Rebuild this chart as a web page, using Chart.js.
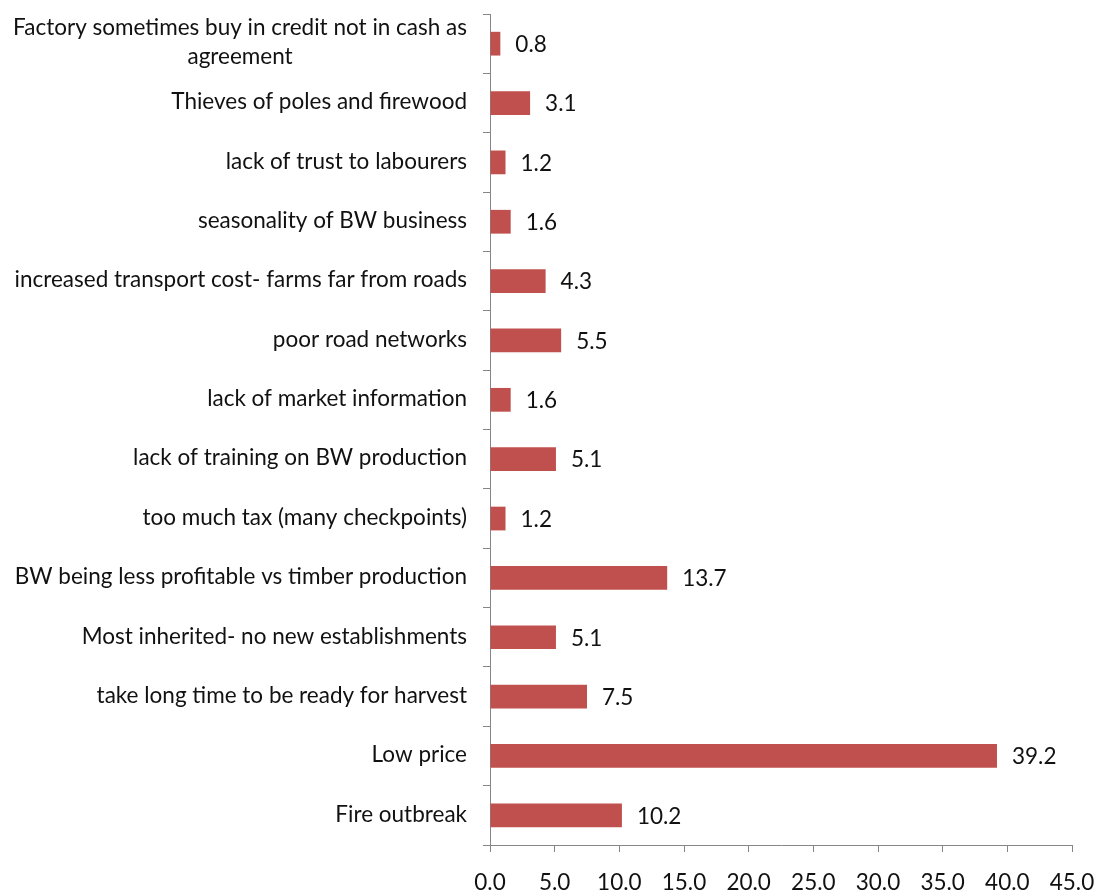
<!DOCTYPE html>
<html>
<head>
<meta charset="utf-8">
<script src="https://cdn.jsdelivr.net/npm/chart.js@4/dist/chart.umd.min.js"></script>
<style>
  html, body { margin: 0; padding: 0; background: #fff; }
  #wrap { width: 1103px; height: 894px; position: relative; }
</style>
</head>
<body>
<div id="wrap"><canvas id="chart"></canvas></div>
<script>
// categories, top to bottom as drawn
const categories = [
  ["Factory sometimes buy in credit not in cash as", "agreement"],
  "Thieves of poles and firewood",
  "lack of trust to labourers",
  "seasonality of BW business",
  "increased transport cost- farms far from roads",
  "poor road networks",
  "lack of market information",
  "lack of training on BW production",
  "too much tax (many checkpoints)",
  "BW being less profitable vs timber production",
  "Most inherited- no new establishments",
  "take long time to be ready for harvest",
  "Low price",
  "Fire outbreak",
];
const values = [0.8, 3.1, 1.2, 1.6, 4.3, 5.5, 1.6, 5.1, 1.2, 13.7, 5.1, 7.5, 39.2, 10.2];
const xTicks = [0, 5, 10, 15, 20, 25, 30, 35, 40, 45];

const FONT = "Lato, 'Open Sans', sans-serif";
const SIZE = 22.5;
const AXIS_GRAY = "#868686";

// draws category labels (multi-line ones centred like the original)
const catLabels = {
  id: "catLabels",
  afterDraw(chart) {
    const { ctx } = chart;
    const y = chart.scales.y;
    ctx.save();
    ctx.font = SIZE + "px " + FONT;
    ctx.fillStyle = "#111";
    ctx.textBaseline = "middle";
    ctx.textAlign = "center";
    const right = y.right - 23;
    const lh = 29;
    categories.forEach((lab, i) => {
      const lines = Array.isArray(lab) ? lab : [lab];
      const w = Math.max(...lines.map((l) => ctx.measureText(l).width));
      const cx = right - w / 2;
      const cy = y.getPixelForValue(i) - 1;
      const top = cy - ((lines.length - 1) * lh) / 2;
      lines.forEach((l, k) => ctx.fillText(l, cx, top + k * lh));
    });
    ctx.restore();
  },
};

// value labels at the end of each bar
const valueLabels = {
  id: "valueLabels",
  afterDatasetsDraw(chart) {
    const { ctx } = chart;
    const meta = chart.getDatasetMeta(0);
    ctx.save();
    ctx.font = SIZE + "px " + FONT;
    ctx.fillStyle = "#111";
    ctx.textBaseline = "middle";
    ctx.textAlign = "left";
    meta.data.forEach((bar, i) => {
      ctx.fillText(values[i].toFixed(1), bar.x + 15, bar.y + 1);
    });
    ctx.restore();
  },
};

new Chart(document.getElementById("chart"), {
  type: "bar",
  data: {
    labels: categories,
    datasets: [
      {
        data: values,
        backgroundColor: "#C0504D",
        borderWidth: 0,
        barPercentage: 0.8,
        categoryPercentage: 0.5,
      },
    ],
  },
  options: {
    indexAxis: "y",
    responsive: true,
    maintainAspectRatio: false,
    animation: false,
    layout: { padding: { left: 0, right: 31, top: 14, bottom: 0 } },
    plugins: { legend: { display: false }, tooltip: { enabled: false } },
    scales: {
      x: {
        min: 0,
        max: 45,
        afterBuildTicks: (s) => { s.ticks = xTicks.map((v) => ({ value: v })); },
        afterFit: (s) => {
          s.height = 49;
          s.paddingLeft = 0;
          s.paddingRight = 0;
        },
        border: { color: AXIS_GRAY, width: 1 },
        grid: { drawOnChartArea: false, color: AXIS_GRAY, tickLength: 7 },
        ticks: {
          padding: 17,
          color: "#111",
          font: { family: FONT, size: SIZE },
          maxRotation: 0,
          callback: (v) => Number(v).toFixed(1),
        },
      },
      y: {
        offset: true,
        afterFit: (s) => { s.width = 490; },
        border: { color: AXIS_GRAY, width: 1 },
        grid: { drawOnChartArea: false, offset: true, color: AXIS_GRAY, tickLength: 7 },
        ticks: { display: false },
      },
    },
  },
  plugins: [catLabels, valueLabels],
});
</script>
</body>
</html>
